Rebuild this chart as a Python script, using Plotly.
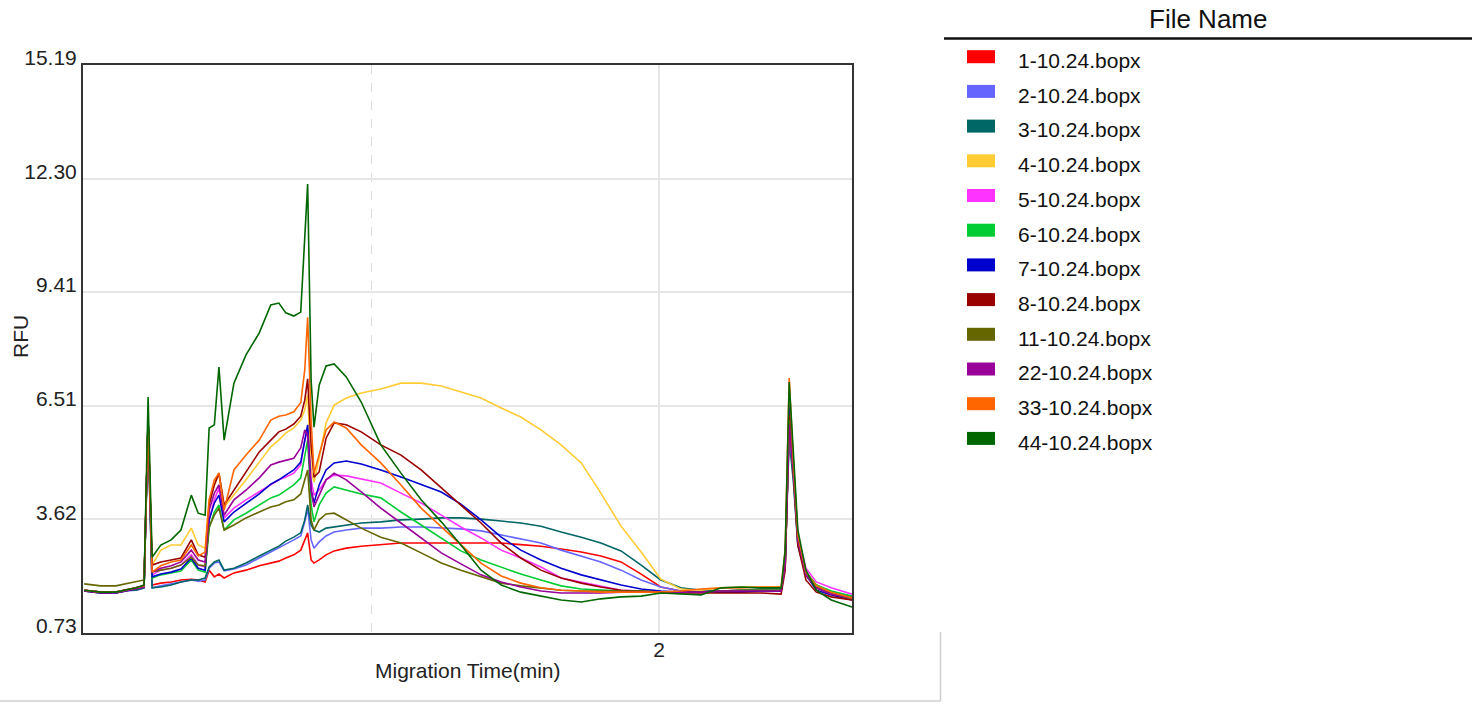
import plotly.graph_objects as go

# ---------------- data ----------------
migration_time = [1.002, 1.031, 1.057, 1.075, 1.092, 1.106, 1.113, 1.120, 1.135, 1.153,
                  1.170, 1.188, 1.200, 1.212, 1.219, 1.228, 1.236, 1.245, 1.262, 1.283,
                  1.306, 1.326, 1.340, 1.352, 1.366, 1.378, 1.385, 1.390, 1.396, 1.401,
                  1.410, 1.422, 1.436, 1.457, 1.483, 1.517, 1.552, 1.587, 1.622, 1.656,
                  1.691, 1.726, 1.760, 1.795, 1.830, 1.865, 1.899, 1.934, 1.969, 2.003,
                  2.038, 2.073, 2.108, 2.142, 2.177, 2.212, 2.219, 2.226, 2.233, 2.241,
                  2.255, 2.273, 2.299, 2.335]

file_names = ["1-10.24.bopx", "2-10.24.bopx", "3-10.24.bopx", "4-10.24.bopx",
              "5-10.24.bopx", "6-10.24.bopx", "7-10.24.bopx", "8-10.24.bopx",
              "11-10.24.bopx", "22-10.24.bopx", "33-10.24.bopx", "44-10.24.bopx"]

file_colors = ["#FF0000", "#6666FF", "#006666", "#FFCC33", "#FF33FF", "#00CC33",
               "#0000CC", "#990000", "#666600", "#990099", "#FF6600", "#006600"]

rfu_1 = [1.82, 1.77, 1.77, 1.82, 1.88, 1.90, 6.03, 1.95, 2.00, 2.03, 2.08, 2.10, 2.08, 2.03,
         2.33, 2.16, 2.23, 2.13, 2.26, 2.33, 2.44, 2.51, 2.56, 2.64, 2.72, 2.84, 3.10, 3.28,
         2.59, 2.51, 2.59, 2.72, 2.82, 2.89, 2.94, 2.98, 3.02, 3.02, 3.02, 3.02, 3.02, 3.02,
         2.98, 2.94, 2.87, 2.79, 2.69, 2.54, 2.23, 1.90, 1.80, 1.77, 1.77, 1.80, 1.82, 1.80,
         2.46, 6.03, 4.88, 3.10, 2.26, 1.95, 1.77, 1.65]
rfu_2 = [1.80, 1.75, 1.75, 1.80, 1.82, 1.88, 5.90, 1.88, 1.93, 1.98, 2.03, 2.08, 2.05, 2.08,
         2.38, 2.51, 2.54, 2.31, 2.36, 2.46, 2.64, 2.79, 2.89, 2.98, 3.10, 3.20, 3.56, 3.91,
         3.10, 2.89, 3.05, 3.20, 3.30, 3.35, 3.40, 3.40, 3.43, 3.43, 3.40, 3.38, 3.33, 3.22,
         3.12, 3.02, 2.84, 2.69, 2.54, 2.33, 2.08, 1.90, 1.80, 1.77, 1.77, 1.80, 1.82, 1.82,
         2.59, 5.90, 4.75, 2.97, 2.21, 1.88, 1.72, 1.60]
rfu_3 = [1.82, 1.77, 1.77, 1.82, 1.82, 1.88, 5.90, 1.88, 1.90, 1.95, 2.03, 2.08, 2.08, 2.13,
         2.41, 2.54, 2.59, 2.33, 2.38, 2.51, 2.69, 2.84, 2.94, 3.07, 3.17, 3.28, 3.61, 3.99,
         3.48, 3.35, 3.30, 3.40, 3.43, 3.48, 3.53, 3.56, 3.61, 3.63, 3.66, 3.66, 3.63, 3.58,
         3.53, 3.45, 3.30, 3.17, 3.02, 2.82, 2.46, 2.08, 1.88, 1.82, 1.80, 1.82, 1.85, 1.85,
         2.59, 5.64, 4.63, 2.97, 2.21, 1.90, 1.75, 1.62]
rfu_4 = [1.82, 1.77, 1.77, 1.82, 1.88, 1.95, 6.15, 2.46, 2.84, 2.97, 2.97, 3.40, 2.97, 2.89,
         4.12, 4.50, 4.80, 3.94, 4.24, 4.63, 5.08, 5.47, 5.64, 5.82, 5.95, 6.15, 6.41, 6.79,
         4.88, 4.57, 5.18, 6.08, 6.53, 6.71, 6.84, 6.94, 7.09, 7.09, 7.02, 6.87, 6.71, 6.46,
         6.23, 5.90, 5.52, 5.06, 4.29, 3.45, 2.79, 2.10, 1.85, 1.82, 1.88, 1.90, 1.90, 1.90,
         2.59, 6.66, 5.01, 3.10, 2.28, 1.95, 1.77, 1.62]
rfu_5 = [1.82, 1.77, 1.77, 1.82, 1.88, 1.93, 6.15, 2.21, 2.33, 2.38, 2.46, 2.72, 2.46, 2.41,
         3.61, 4.12, 4.42, 3.66, 3.91, 4.12, 4.32, 4.50, 4.63, 4.70, 4.80, 5.01, 5.64, 5.90,
         4.63, 4.24, 4.37, 4.63, 4.75, 4.73, 4.65, 4.55, 4.29, 4.04, 3.73, 3.43, 3.15, 2.84,
         2.64, 2.41, 2.13, 2.03, 1.93, 1.82, 1.80, 1.77, 1.77, 1.77, 1.80, 1.82, 1.82, 1.82,
         2.46, 5.90, 4.88, 3.22, 2.38, 2.03, 1.88, 1.72]
rfu_6 = [1.80, 1.75, 1.75, 1.80, 1.85, 1.90, 6.15, 2.13, 2.21, 2.26, 2.31, 2.59, 2.33, 2.28,
         3.40, 3.81, 3.99, 3.35, 3.61, 3.78, 3.99, 4.17, 4.24, 4.37, 4.50, 4.68, 5.26, 5.64,
         3.99, 3.56, 3.99, 4.29, 4.45, 4.37, 4.27, 4.17, 3.81, 3.48, 3.15, 2.82, 2.59, 2.41,
         2.23, 2.08, 1.93, 1.85, 1.82, 1.80, 1.80, 1.77, 1.77, 1.77, 1.80, 1.82, 1.82, 1.82,
         2.46, 6.15, 4.88, 3.10, 2.28, 1.95, 1.80, 1.67]
rfu_7 = [1.80, 1.75, 1.75, 1.80, 1.85, 1.90, 6.15, 2.16, 2.23, 2.28, 2.36, 2.64, 2.38, 2.33,
         3.61, 4.04, 4.24, 3.56, 3.81, 4.04, 4.27, 4.52, 4.63, 4.75, 4.88, 5.08, 5.64, 6.03,
         4.37, 4.04, 4.50, 4.88, 5.06, 5.11, 5.03, 4.88, 4.70, 4.50, 4.32, 4.01, 3.61, 3.17,
         2.84, 2.59, 2.38, 2.21, 2.08, 1.95, 1.85, 1.80, 1.77, 1.77, 1.77, 1.77, 1.80, 1.80,
         2.59, 6.53, 5.01, 3.10, 2.21, 1.82, 1.70, 1.57]
rfu_8 = [1.82, 1.77, 1.77, 1.82, 1.88, 1.93, 6.15, 2.46, 2.54, 2.59, 2.64, 3.10, 2.72, 2.66,
         3.99, 4.50, 4.80, 3.99, 4.37, 4.83, 5.34, 5.64, 5.85, 5.92, 6.05, 6.25, 6.66, 7.20,
         5.52, 4.70, 4.83, 5.69, 6.08, 6.03, 5.85, 5.52, 5.26, 4.88, 4.42, 3.99, 3.53, 3.02,
         2.64, 2.33, 2.13, 2.00, 1.90, 1.82, 1.80, 1.77, 1.75, 1.75, 1.75, 1.75, 1.75, 1.72,
         2.33, 6.28, 4.88, 2.97, 2.08, 1.77, 1.65, 1.57]
rfu_11 = [1.98, 1.93, 1.93, 1.98, 2.03, 2.08, 6.15, 2.28, 2.33, 2.38, 2.46, 2.66, 2.46, 2.44,
          3.43, 3.73, 3.91, 3.35, 3.48, 3.66, 3.81, 3.94, 3.99, 4.07, 4.12, 4.27, 4.63, 4.88,
          3.61, 3.35, 3.61, 3.76, 3.78, 3.61, 3.40, 3.17, 3.02, 2.77, 2.51, 2.33, 2.16, 2.00,
          1.93, 1.88, 1.82, 1.80, 1.80, 1.80, 1.80, 1.77, 1.77, 1.77, 1.80, 1.82, 1.82, 1.82,
          2.46, 6.15, 4.88, 3.10, 2.21, 1.88, 1.72, 1.60]
rfu_22 = [1.80, 1.75, 1.75, 1.80, 1.85, 1.90, 6.15, 2.28, 2.38, 2.44, 2.54, 2.84, 2.59, 2.54,
          3.86, 4.29, 4.50, 3.73, 4.12, 4.37, 4.68, 5.01, 5.08, 5.13, 5.18, 5.44, 5.90, 5.77,
          4.37, 3.94, 4.24, 4.63, 4.80, 4.63, 4.32, 3.91, 3.53, 3.15, 2.77, 2.49, 2.21, 2.03,
          1.90, 1.80, 1.75, 1.75, 1.75, 1.77, 1.77, 1.77, 1.77, 1.77, 1.80, 1.80, 1.80, 1.80,
          2.46, 6.03, 4.88, 3.10, 2.21, 1.88, 1.72, 1.62]
rfu_33 = [1.82, 1.77, 1.77, 1.82, 1.88, 1.93, 6.15, 2.28, 2.44, 2.54, 2.59, 2.97, 2.69, 2.79,
          4.12, 4.63, 4.80, 3.86, 4.88, 5.26, 5.64, 6.15, 6.25, 6.28, 6.36, 6.59, 7.43, 8.77,
          6.15, 4.80, 5.26, 5.90, 6.10, 5.95, 5.52, 5.06, 4.50, 3.91, 3.43, 2.97, 2.51, 2.18,
          2.00, 1.88, 1.82, 1.80, 1.77, 1.77, 1.77, 1.77, 1.80, 1.85, 1.88, 1.88, 1.90, 1.90,
          2.84, 7.22, 5.13, 3.22, 2.28, 1.93, 1.77, 1.62]
rfu_44 = [1.82, 1.77, 1.77, 1.82, 1.88, 1.95, 6.74, 2.66, 2.97, 3.10, 3.35, 4.24, 3.78, 3.73,
          5.95, 6.03, 7.50, 5.64, 7.09, 7.81, 8.37, 9.08, 9.13, 8.88, 8.80, 8.90, 10.81, 12.16,
          7.17, 5.97, 7.04, 7.53, 7.58, 7.25, 6.61, 5.52, 4.80, 4.12, 3.56, 2.97, 2.33, 1.95,
          1.77, 1.67, 1.57, 1.52, 1.60, 1.65, 1.67, 1.75, 1.72, 1.70, 1.88, 1.90, 1.88, 1.88,
          2.84, 7.12, 5.39, 3.35, 2.33, 1.82, 1.57, 1.39]

rfu_series = [rfu_1, rfu_2, rfu_3, rfu_4, rfu_5, rfu_6, rfu_7, rfu_8,
              rfu_11, rfu_22, rfu_33, rfu_44]

y_tick_values = [0.73, 3.62, 6.51, 9.41, 12.30, 15.19]
y_tick_labels = ["0.73", "3.62", "6.51", "9.41", "12.30", "15.19"]
x_tick_values = [2]
x_tick_labels = ["2"]
x_minor_grid = [1.5]

for s in rfu_series:
    assert len(s) == len(migration_time)

# ---------------- layout helpers ----------------
W, H = 1481, 704
ML, MR, MT, MB = 83, 629, 65, 71
PW, PH = W - ML - MR, H - MT - MB
FONT = "Liberation Sans, Arial, sans-serif"


def fx(x):
    return (x - ML) / PW


def fy(y):
    return (H - MB - y) / PH


fig = go.Figure()
for name, color, vals in zip(file_names, file_colors, rfu_series):
    fig.add_trace(go.Scatter(x=migration_time, y=vals, mode="lines", name=name,
                             line=dict(color=color, width=1.6), showlegend=False))

shapes = []
annotations = []

# legend (custom, colour swatches)
annotations.append(dict(text="File Name", x=fx(1208), y=fy(19), xref="paper", yref="paper",
                        xanchor="center", yanchor="middle", showarrow=False,
                        font=dict(size=26, color="#111", family=FONT)))
shapes.append(dict(type="line", xref="paper", yref="paper", x0=fx(944), x1=fx(1472),
                   y0=fy(38.5), y1=fy(38.5), line=dict(color="#111", width=2.5)))
for i, (name, color) in enumerate(zip(file_names, file_colors)):
    yc = 56.7 + 34.7 * i
    shapes.append(dict(type="rect", xref="paper", yref="paper", x0=fx(967), x1=fx(995),
                       y0=fy(yc + 6.5), y1=fy(yc - 6.5), fillcolor=color,
                       line=dict(width=0)))
    annotations.append(dict(text=name, x=fx(1016), y=fy(yc + 3.8), xref="paper", yref="paper",
                            xanchor="left", yanchor="middle", showarrow=False,
                            font=dict(size=21, color="#111", family=FONT)))

# axis titles
annotations.append(dict(text="Migration Time(min)", x=fx(467.5), y=fy(670), xref="paper",
                        yref="paper", xanchor="center", yanchor="middle", showarrow=False,
                        font=dict(size=21, color="#222", family=FONT)))
annotations.append(dict(text="RFU", x=fx(20), y=fy(337), xref="paper", yref="paper",
                        xanchor="center", yanchor="middle", showarrow=False, textangle=-90,
                        font=dict(size=21, color="#222", family=FONT)))

# outer container frame (partial light grey border)
shapes.append(dict(type="line", xref="paper", yref="paper", x0=fx(0), x1=fx(940.5),
                   y0=fy(701), y1=fy(701), line=dict(color="#cfcfcf", width=1.5)))
shapes.append(dict(type="line", xref="paper", yref="paper", x0=fx(940.5), x1=fx(940.5),
                   y0=fy(632), y1=fy(701), line=dict(color="#cfcfcf", width=1.5)))

fig.update_layout(
    width=W, height=H,
    margin=dict(l=ML, r=MR, t=MT, b=MB, pad=0),
    paper_bgcolor="white", plot_bgcolor="white",
    font=dict(family=FONT, size=21, color="#222"),
    showlegend=False,
    shapes=shapes, annotations=annotations,
    xaxis=dict(range=[1.0, 2.335], tickvals=x_tick_values, ticktext=x_tick_labels,
               showgrid=True, gridcolor="#e6e6e6", gridwidth=1.5,
               showline=True, linecolor="#333", linewidth=2, mirror=True,
               ticks="", zeroline=False, ticklabelstandoff=-3,
               tickfont=dict(size=21, color="#222", family=FONT),
               minor=dict(tickvals=x_minor_grid, showgrid=True, gridcolor="#dcdcdc",
                          griddash="dash", gridwidth=1, ticks="")),
    yaxis=dict(range=[0.73, 15.19], tickvals=y_tick_values, ticktext=y_tick_labels,
               showgrid=True, gridcolor="#e6e6e6", gridwidth=1.5,
               showline=True, linecolor="#333", linewidth=2, mirror=True,
               ticks="", zeroline=False, ticklabelshift=-7, ticklabelstandoff=0,
               tickfont=dict(size=21, color="#222", family=FONT)),
)

# remove the default 8px page margin so the figure sits at the window's top-left corner
fig.write_html("out.html",
               config={"displayModeBar": False},
               post_script="document.body.style.margin='0px';document.body.style.overflow='hidden';")
